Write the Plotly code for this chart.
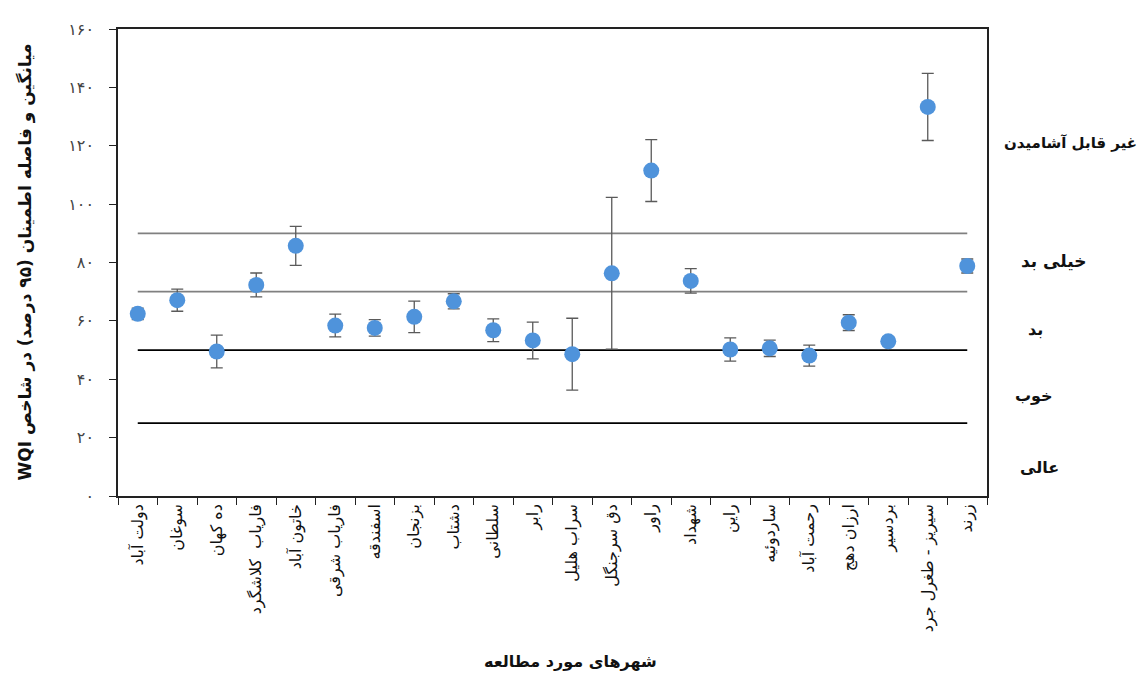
import plotly.graph_objects as go

cities = ["دولت آباد", "سوغان", "ده کهان", "فاریاب  کلاشگرد", "خاتون آباد", "فاریاب شرقی",
          "اسفندقه", "بزنجان", "دشتاب", "سلطانی", "رابر", "سراب هلیل", "دق سرجنگل", "راور",
          "شهداد", "راین", "ساردوئیه", "رحمت آباد", "ارزان دهج", "بردسیر", "سیریز - طغرل جرد", "زرند"]
wqi_mean = [62.4, 67.1, 49.5, 72.3, 85.7, 58.4, 57.6, 61.4, 66.7, 56.8, 53.3, 48.6, 76.3, 111.5,
            73.7, 50.2, 50.6, 48.1, 59.4, 53.0, 133.3, 78.8]
wqi_ci = [2.0, 3.8, 5.6, 4.1, 6.7, 3.9, 2.8, 5.4, 2.6, 3.9, 6.3, 12.3, 26.0, 10.6,
          4.2, 4.0, 2.8, 3.6, 2.7, 1.5, 11.5, 2.4]

class_limits = [90, 70, 50, 25]
class_line_colors = ["#808080", "#808080", "#000000", "#000000"]
class_names = ["غیر قابل آشامیدن", "خیلی بد", "بد", "خوب", "عالی"]
class_label_y = [121, 80.5, 57.2, 34.3, 9.8]
class_label_x = [1.096, 1.077, 1.056, 1.054, 1.060]
class_label_size = [15, 17, 16, 16, 16]

y_tick_vals = [0, 20, 40, 60, 80, 100, 120, 140, 160]
y_tick_text = ["۰", "۲۰", "۴۰", "۶۰", "۸۰", "۱۰۰", "۱۲۰", "۱۴۰", "۱۶۰"]

FONT = "DejaVu Sans"
RLE, PDF = "\u202B", "\u202C"

fig = go.Figure()

for lim, col in zip(class_limits, class_line_colors):
    fig.add_trace(go.Scatter(x=[cities[0], cities[-1]], y=[lim, lim], mode="lines",
                             line=dict(color=col, width=1.8), showlegend=False, hoverinfo="skip"))

fig.add_trace(go.Scatter(
    x=cities, y=wqi_mean, mode="markers",
    marker=dict(size=16, color="#4F93DB"),
    error_y=dict(type="data", array=wqi_ci, visible=True, color="#5a5a5a", thickness=1.3, width=6),
    showlegend=False))

for name, yv, xv, fs in zip(class_names, class_label_y, class_label_x, class_label_size):
    fig.add_annotation(text="<b>" + name + "</b>", xref="paper", yref="y", x=xv, y=yv,
                       showarrow=False, font=dict(family=FONT, size=fs, color="#111111"),
                       xanchor="center", yanchor="middle")

fig.add_annotation(text="<b>" + RLE + "میانگین و فاصله اطمینان (۹۵ درصد) در شاخص WQI" + PDF + "</b>",
                   xref="paper", yref="paper", x=-0.107, y=0.5, textangle=-90,
                   showarrow=False, font=dict(family=FONT, size=17, color="#111111"),
                   xanchor="center", yanchor="middle")
fig.add_annotation(text="<b>شهرهای مورد مطالعه</b>",
                   xref="paper", yref="paper", x=0.521, y=-0.355,
                   showarrow=False, font=dict(family=FONT, size=16, color="#111111"),
                   xanchor="center", yanchor="middle")

fig.update_layout(
    width=1147, height=680,
    margin=dict(l=110, r=168, t=12, b=192),
    paper_bgcolor="white", plot_bgcolor="white",
    font=dict(family=FONT, color="#111111"),
    xaxis=dict(type="category", categoryorder="array", categoryarray=cities,
               range=[-0.5, len(cities) - 0.5], tickson="boundaries",
               ticks="outside", ticklen=7, tickcolor="#222222", tickangle=-90,
               showline=True, linecolor="#222222", linewidth=1.5, mirror=True,
               showgrid=False, tickfont=dict(family=FONT, size=16, color="#111111")),
    yaxis=dict(range=[0, 160], tickvals=y_tick_vals, ticktext=y_tick_text,
               ticks="outside", ticklen=7, tickcolor="#222222",
               showline=True, linecolor="#222222", linewidth=1.5, mirror=True,
               showgrid=False, zeroline=False, ticklabelstandoff=12,
               tickfont=dict(family=FONT, size=16, color="#444444")),
)

fig.write_html("out.html")
